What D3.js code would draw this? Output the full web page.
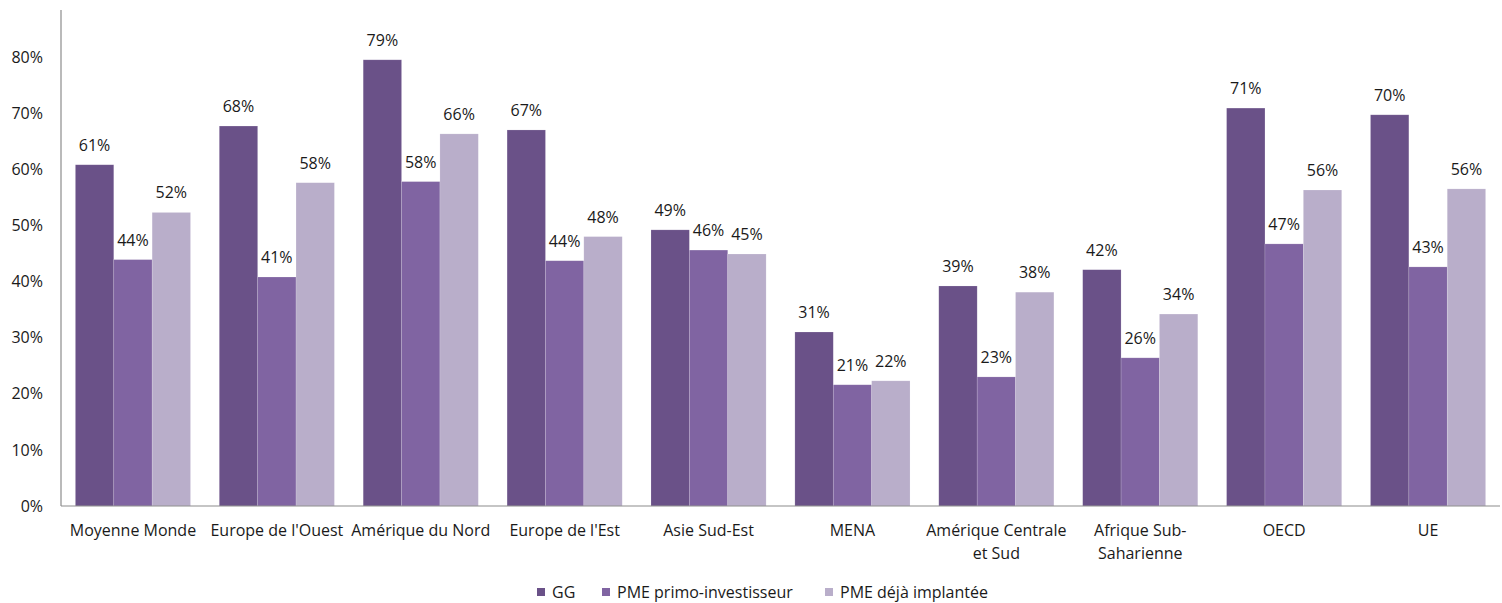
<!DOCTYPE html>
<html><head><meta charset="utf-8">
<script src="https://cdn.jsdelivr.net/npm/d3@7"></script>
<style>
html,body{margin:0;padding:0;background:#fff;}
text{font-family:"Open Sans",sans-serif;fill:#1a1a1a;}
</style></head>
<body><svg id="c" width="1502" height="603"></svg>
<script>
const categories = ["Moyenne Monde","Europe de l'Ouest","Amérique du Nord","Europe de l'Est","Asie Sud-Est","MENA","Amérique Centrale|et Sud","Afrique Sub-|Saharienne","OECD","UE"];
const seriesNames = ["GG","PME primo-investisseur","PME déjà implantée"];
const gg      = [0.608,0.677,0.795,0.670,0.492,0.310,0.392,0.421,0.709,0.697];
const primo   = [0.439,0.408,0.578,0.437,0.456,0.216,0.230,0.264,0.467,0.426];
const implant = [0.523,0.576,0.663,0.480,0.449,0.223,0.381,0.342,0.563,0.565];
const labels  = [["61%","44%","52%"],["68%","41%","58%"],["79%","58%","66%"],["67%","44%","48%"],["49%","46%","45%"],["31%","21%","22%"],["39%","23%","38%"],["42%","26%","34%"],["71%","47%","56%"],["70%","43%","56%"]];
const yTicks = [0,0.1,0.2,0.3,0.4,0.5,0.6,0.7,0.8];
const colors = ["#6A5188","#8064A2","#B9AECA"];

const FS = "16px";
const series = [gg, primo, implant];
const svg = d3.select("#c");
const x0 = 61, x1 = 1500, yBase = 506;
const x = d3.scaleBand().domain(categories).range([x0, x1]).paddingInner(0.2).paddingOuter(0.1);
const xs = d3.scaleBand().domain(d3.range(3)).range([0, x.bandwidth()]);
const y = d3.scaleLinear().domain([0, 0.8]).range([yBase, 57]);

// y axis labels
const yAxis = d3.axisLeft(y).tickValues(yTicks).tickFormat(d3.format(".0%")).tickSize(0).tickPadding(18);
const ga = svg.append("g").attr("transform", `translate(${x0},0)`).call(yAxis);
ga.select(".domain").remove();
ga.selectAll("text").style("font-family","Open Sans").style("font-size",FS).attr("fill","#1a1a1a");

// bars
categories.forEach((c, i) => {
  const g = svg.append("g").attr("transform", `translate(${x(c)},0)`);
  series.forEach((s, j) => {
    g.append("rect").attr("x", xs(j)).attr("width", xs.bandwidth())
      .attr("y", y(s[i])).attr("height", yBase - y(s[i]))
      .attr("fill", colors[j]).attr("stroke", "#ffffff").attr("stroke-opacity",0.25).attr("stroke-width",0.6);
    g.append("text").attr("x", xs(j) + xs.bandwidth()/2).attr("y", y(s[i]) - 14)
      .attr("text-anchor","middle").style("font-size",FS).text(labels[i][j]);
  });
});

// axes lines
svg.append("line").attr("x1", x0).attr("x2", x0).attr("y1", 10).attr("y2", yBase).attr("stroke","#8c8c8c").attr("stroke-width",1.2);
svg.append("line").attr("x1", x0).attr("x2", x1).attr("y1", yBase).attr("y2", yBase).attr("stroke","#8c8c8c").attr("stroke-width",1.2);

// category labels
const xAxis = d3.axisBottom(x).tickSize(0).tickFormat("");
svg.append("g").attr("transform", `translate(0,${yBase})`).call(xAxis).select(".domain").remove();
categories.forEach(c => {
  const lines = c.split("|");
  const t = svg.append("text").attr("x", x(c) + x.bandwidth()/2).attr("y", 536)
    .attr("text-anchor","middle").style("font-size",FS);
  lines.forEach((l, k) => t.append("tspan").attr("x", x(c) + x.bandwidth()/2).attr("dy", k ? 23 : 0).text(l));
});

// legend
const legX = [537, 602, 825];
seriesNames.forEach((n, j) => {
  svg.append("rect").attr("x", legX[j]).attr("y", 588).attr("width", 8).attr("height", 8).attr("fill", colors[j]);
  svg.append("text").attr("x", legX[j] + 15).attr("y", 598).style("font-size",FS).text(n);
});
</script></body></html>
